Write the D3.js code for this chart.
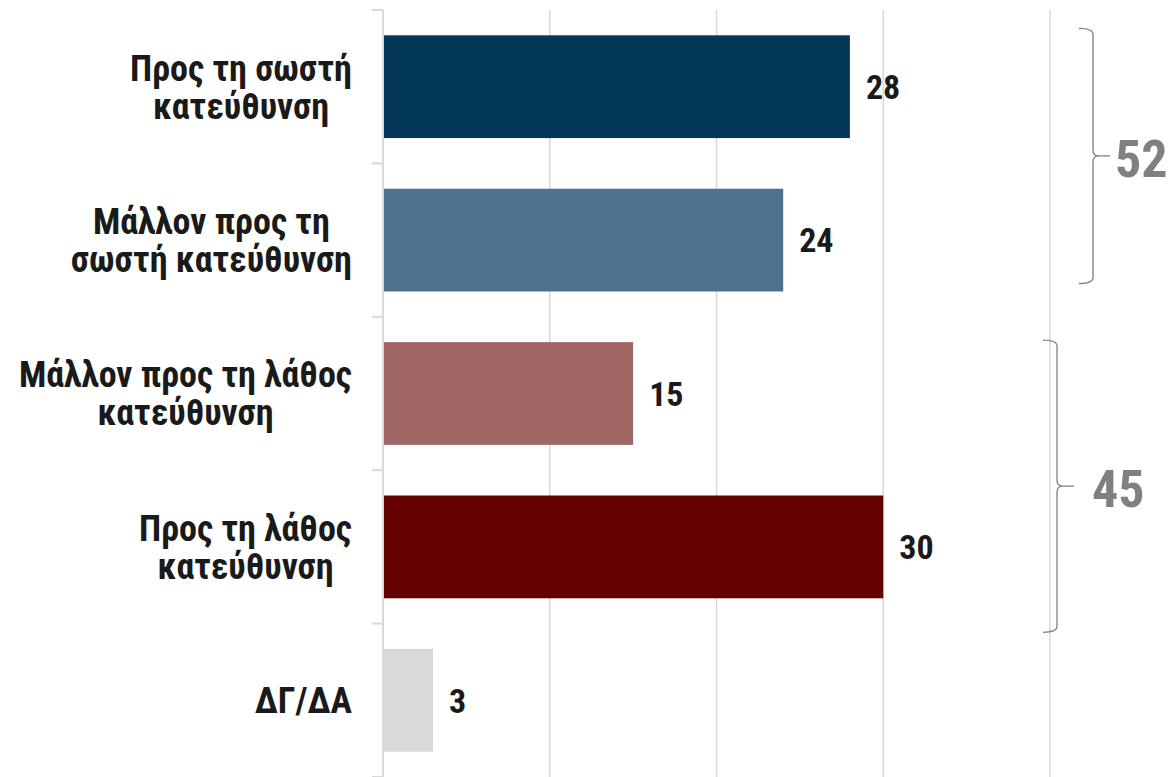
<!DOCTYPE html>
<html>
<head>
  <meta charset="utf-8">
  <title>d3 bars</title>
  <script src="https://cdnjs.cloudflare.com/ajax/libs/d3/7.8.5/d3.min.js"></script>
</head>
<style>
  body { margin: 0; background: #fff; }
  svg { display: block; }
  text { font-family: "Roboto Condensed", "Arial Narrow", sans-serif; font-weight: bold; }
</style>
<body>
<svg id="svg" width="1170" height="777"></svg>
<script>

const categories = [
  ['Προς τη σωστή', 'κατεύθυνση'],
  ['Μάλλον προς τη', 'σωστή κατεύθυνση'],
  ['Μάλλον προς τη λάθος', 'κατεύθυνση'],
  ['Προς τη λάθος', 'κατεύθυνση'],
  ['ΔΓ/ΔΑ']
];
const values = [28, 24, 15, 30, 3];
const colors = ['#02375a', '#4e7190', '#a06664', '#620000', '#d9d9d9'];
const xTicks = [0, 10, 20, 30, 40];
// sums shown next to the curly brackets
const groups = [
  { from: 0, to: 1, total: 52 },
  { from: 2, to: 3, total: 45 }
];

const svg = d3.select('#svg');

const x = d3.scaleLinear().domain([0, 40]).range([383, 1050]);
const y = d3.scaleBand().domain(d3.range(values.length)).range([10, 777])
  .paddingInner(0.33).paddingOuter(0.165);

// gridlines
svg.selectAll('line.grid')
  .data(xTicks)
  .enter()
  .append('line')
  .attr('x1', d => x(d)).attr('x2', d => x(d))
  .attr('y1', 10).attr('y2', 777)
  .style('stroke', '#d9d9d9')
  .style('stroke-width', 1.5);

// bars
svg.selectAll('rect.bar')
  .data(values)
  .enter()
  .append('rect')
  .attr('x', x(0))
  .attr('y', (d, i) => y(i))
  .attr('width', d => x(d) - x(0))
  .attr('height', y.bandwidth())
  .style('fill', (d, i) => colors[i]);

// left axis with tick marks on category boundaries
const bounds = d3.range(values.length + 1).map(i => 10 + i * y.step());
svg.append('line')
  .attr('x1', x(0)).attr('x2', x(0)).attr('y1', 10).attr('y2', 777)
  .style('stroke', '#d9d9d9').style('stroke-width', 2);
svg.selectAll('line.tick')
  .data(bounds)
  .enter()
  .append('line')
  .attr('x1', x(0) - 11).attr('x2', x(0))
  .attr('y1', d => d).attr('y2', d => d)
  .style('stroke', '#d9d9d9').style('stroke-width', 2);

// value labels
svg.selectAll('text.val')
  .data(values)
  .enter()
  .append('text')
  .attr('x', d => x(d) + 16)
  .attr('y', (d, i) => y(i) + y.bandwidth() / 2)
  .attr('dy', '0.36em')
  .style('font-size', '34px')
  .style('fill', '#1a1a1a')
  .text(d => d);

// category labels: lines centred inside a block whose right edge is fixed
const lineH = 38;
categories.forEach((lines, i) => {
  const g = svg.append('g');
  const texts = lines.map((l, j) => g.append('text')
    .attr('y', y(i) + y.bandwidth() / 2 + (j - (lines.length - 1) / 2) * lineH)
    .attr('dy', '0.36em')
    .attr('text-anchor', 'middle')
    .style('font-size', '36px')
    .style('fill', '#1a1a1a')
    .text(l));
  const w = d3.max(texts, t => t.node().getComputedTextLength());
  texts.forEach(t => t.attr('x', 352 - w / 2));
});

// curly brackets with totals
groups.forEach((gr, k) => {
  const top = k === 0 ? y(gr.from) - 7 : y(gr.from) - 2;
  const bot = k === 0 ? y(gr.to) + y.bandwidth() - 8 : y(gr.to) + y.bandwidth() + 34;
  const bx = k === 0 ? 1093 : 1057;
  const mid = (top + bot) / 2;
  const p = d3.path();
  p.moveTo(bx - 14, top);
  p.quadraticCurveTo(bx, top, bx, top + 6);
  p.lineTo(bx, mid - 6);
  p.quadraticCurveTo(bx, mid, bx + 6, mid);
  p.lineTo(bx + 17, mid);
  p.moveTo(bx + 6, mid);
  p.quadraticCurveTo(bx, mid, bx, mid + 6);
  p.lineTo(bx, bot - 6);
  p.quadraticCurveTo(bx, bot, bx - 14, bot);
  svg.append('path')
    .attr('d', p.toString())
    .style('fill', 'none')
    .style('stroke', '#7f7f7f')
    .style('stroke-width', 1.3);
  svg.append('text')
    .attr('x', k === 0 ? bx + 22 : bx + 35)
    .attr('y', mid + 2)
    .attr('dy', '0.36em')
    .style('font-size', '52px')
    .style('fill', '#808080')
    .text(gr.total);
});

</script>
</body>
</html>
